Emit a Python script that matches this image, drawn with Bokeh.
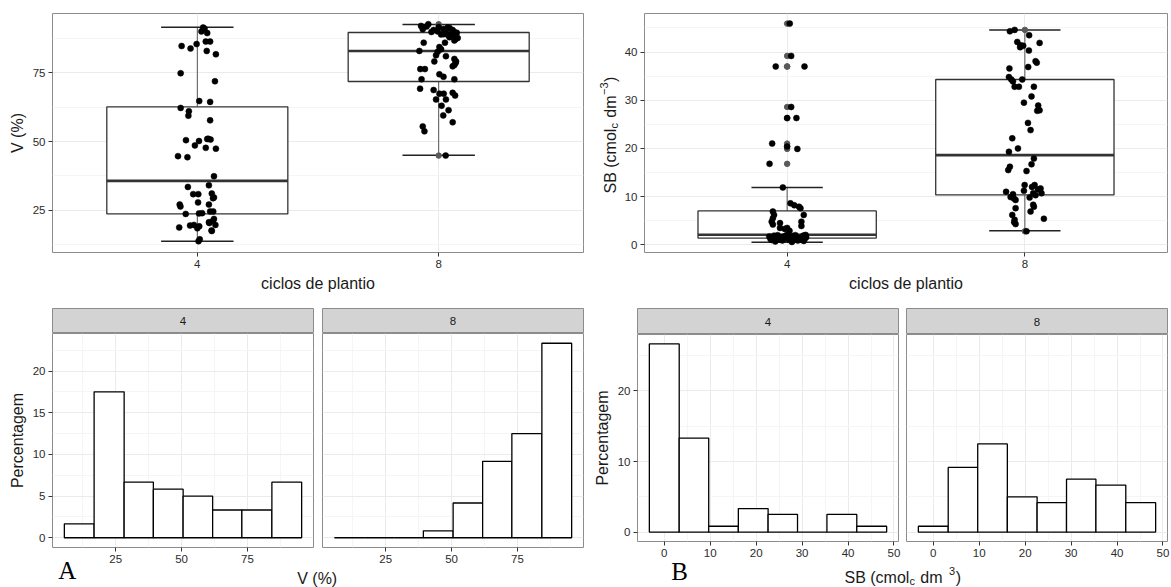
import math
from bokeh.plotting import figure
from bokeh.layouts import row, column
from bokeh.models import Range1d, FixedTicker
from bokeh.embed import file_html
from bokeh.resources import INLINE
from bokeh.core.properties import value

SANS = "Liberation Sans"
SERIF = "Liberation Serif"

# ------------------------------------------------------------------ data
groups = ["4", "8"]
x_axis_title = "ciclos de plantio"
v_axis_title = "V (%)"
hist_axis_title = "Percentagem"
panel_letters = ["A", "B"]

# boxplot statistics (per group: 4, 8)
v_low = [13.8, 45.0]
v_q1 = [23.7, 71.8]
v_med = [35.7, 82.9]
v_q3 = [62.6, 89.6]
v_high = [91.5, 92.5]

sb_low = [0.55, 2.9]
sb_q1 = [1.4, 10.35]
sb_med = [2.07, 18.6]
sb_q3 = [7.03, 34.3]
sb_high = [11.9, 44.55]

# jittered observations (horizontal jitter offset, value)
v4_jitter = [0.024, 0.017, 0.041, 0.030, 0.035, 0.053, -0.065, -0.028, -0.003, 0.039,
             0.077, -0.069, 0.073, 0.008, 0.053, -0.069, -0.035, -0.037, 0.053, -0.047,
             0.007, 0.041, 0.055, 0.045, -0.010, 0.035, 0.077, -0.080, -0.041, 0.069,
             -0.039, 0.048, -0.017, 0.004, 0.060, 0.069, 0.065, 0.003, -0.073, 0.048,
             -0.070, -0.048, 0.007, 0.020, 0.053, 0.066, 0.069, 0.065, 0.048, 0.050,
             -0.014, 0.075, -0.030, 0.008, -0.075, 0.000, 0.059, 0.060, 0.010, 0.005]
v4_values = [91.4, 90.0, 89.4, 91.0, 86.3, 86.3, 84.7, 83.8, 85.4, 82.9,
             81.7, 74.8, 71.9, 64.7, 64.4, 62.2, 61.0, 59.4, 57.7, 50.5,
             50.2, 50.9, 50.7, 51.0, 48.6, 47.7, 47.4, 44.7, 44.3, 37.4,
             33.5, 34.1, 30.9, 30.9, 31.1, 29.7, 29.4, 27.9, 27.1, 27.1,
             26.4, 23.7, 23.9, 24.0, 24.6, 24.6, 21.9, 21.2, 20.7, 20.4,
             19.7, 19.7, 19.5, 19.2, 18.8, 18.5, 17.7, 17.5, 14.5, 13.8]

v8_jitter = [-0.073, -0.043, -0.066, -0.021, -0.004, 0.037, 0.058, 0.021, 0.068, 0.079,
             0.051, -0.062, 0.026, 0.003, -0.050, 0.045, 0.030, -0.030, 0.055, 0.040,
             0.060, 0.010, 0.070, 0.020, 0.000, 0.075, 0.045, 0.065,
             -0.080, -0.004, -0.011, -0.018, 0.065, 0.072, 0.058, -0.076, -0.057, 0.003,
             0.010, 0.070, 0.065, 0.020, 0.030,
             -0.071, 0.065, -0.077, -0.021, 0.003, 0.021, 0.058, 0.068, -0.011, 0.030, 0.012,
             0.041, 0.019, 0.058, -0.066, -0.059,
             0.029]
v8_values = [92.0, 92.6, 90.8, 90.5, 90.0, 91.4, 90.5, 89.0, 89.6, 87.6,
             88.8, 85.9, 85.9, 84.3, 91.8, 91.2, 90.2, 89.8, 89.3, 88.5,
             88.2, 88.9, 87.2, 90.9, 91.6, 89.5, 87.9, 86.7,
             82.9, 82.6, 81.3, 79.1, 80.0, 79.1, 77.3, 76.3, 76.3, 74.4,
             83.5, 78.5, 77.8, 73.5, 81.0,
             72.6, 72.6, 69.2, 68.7, 67.4, 67.4, 67.7, 66.7, 65.3, 65.3, 63.0,
             61.4, 59.5, 57.0, 55.5, 53.7,
             44.9]

sb4_jitter = [0.020, -0.050, 0.070, -0.020, 0.045, -0.065, 0.010, 0.060, -0.035, 0.030,
              -0.070, 0.075, -0.005, 0.050, -0.045, 0.015, -0.060, 0.080, -0.025, 0.040,
              -0.075, 0.065, -0.010, 0.025, -0.055, 0.070, -0.040, 0.035, 0.005, 0.078,
              0.000, 0.010,
              -0.010, 0.000, -0.030, 0.060, -0.060, -0.030, -0.065, 0.060, -0.060, -0.055,
              0.070, -0.060, 0.056, 0.050, 0.030, 0.014,
              -0.018, -0.074, 0.043, 0.000, -0.063, 0.000, 0.039, 0.017, -0.048, 0.073,
              0.017, 0.011]
sb4_values = [0.6, 0.7, 0.8, 0.9, 0.9, 1.0, 1.0, 1.1, 1.1, 1.2,
              1.2, 1.3, 1.3, 1.35, 1.4, 1.45, 1.5, 1.55, 1.6, 1.65,
              1.7, 1.75, 1.8, 1.85, 1.9, 1.95, 2.0, 2.0, 2.05, 2.05,
              2.1, 2.9,
              3.3, 3.5, 3.5, 3.9, 4.2, 4.5, 4.8, 4.8, 5.5, 6.2,
              6.2, 6.9, 7.6, 7.9, 8.2, 8.6,
              11.9, 16.8, 19.9, 20.4, 21.0, 26.3, 26.3, 28.6, 37.0, 37.0,
              39.2, 45.9]

sb8_jitter = [-0.063, -0.043, 0.018, 0.062, -0.032,
              -0.018, -0.007, 0.017, 0.045, 0.014, -0.065, -0.020, 0.050,
              -0.067, -0.057, -0.011, -0.043, -0.025, 0.038, 0.028, -0.004, -0.050,
              0.056, 0.062, 0.052, 0.013, 0.024,
              -0.053, -0.029, -0.067, 0.038, 0.028, -0.063,
              -0.070, 0.007, -0.001, 0.041, 0.066, -0.079, -0.004, 0.035, 0.070, -0.060,
              0.045, -0.050, 0.055, 0.030, 0.020,
              -0.046, -0.039, -0.039, 0.038, 0.024, -0.053, -0.043, 0.080, -0.039, -0.045,
              0.035,
              0.007]
sb8_values = [44.3, 44.6, 43.5, 41.9, 42.1,
              41.4, 41.3, 40.3, 38.1, 36.9, 36.6, 41.0, 37.8,
              34.8, 34.3, 34.3, 32.8, 32.8, 32.8, 30.8, 29.5, 33.9,
              28.9, 27.9, 27.8, 25.3, 23.8,
              22.1, 20.0, 19.3, 17.9, 16.7, 16.2,
              15.5, 15.3, 12.4, 12.4, 11.7, 11.0, 11.2, 10.7, 10.7, 9.9,
              10.3, 10.5, 11.5, 12.0, 9.8,
              9.6, 9.3, 7.6, 7.9, 6.9, 6.2, 5.2, 5.4, 4.3, 4.7,
              8.3,
              2.8]

# histogram bins and percentages
v_bin_edges = [5.5, 16.8, 28.2, 39.3, 50.6, 61.8, 72.9, 84.3, 95.6]
v_pct_4 = [1.67, 17.5, 6.67, 5.83, 5.0, 3.33, 3.33, 6.67]
v_pct_8 = [0.0, 0.0, 0.0, 0.83, 4.17, 9.17, 12.5, 23.33]
sb_bin_edges = [-3.25, 3.25, 9.67, 16.12, 22.6, 29.0, 35.4, 41.9, 48.4]
sb_pct_4 = [26.67, 13.33, 0.83, 3.33, 2.5, 0.0, 2.5, 0.83]
sb_pct_8 = [0.83, 9.17, 12.5, 5.0, 4.17, 7.5, 6.67, 4.17]

# tick values
v_ticks = [25, 50, 75]
v_minor = [12.5, 37.5, 62.5, 87.5]
sb_ticks = [0, 10, 20, 30, 40]
sb_minor = [5, 15, 25, 35, 45]
vh_x_ticks = [25, 50, 75]
vh_x_minor = [12.5, 37.5, 62.5, 87.5]
vh_y_ticks = [0, 5, 10, 15, 20]
vh_y_minor = [2.5, 7.5, 12.5, 17.5, 22.5]
sbh_x_ticks = [0, 10, 20, 30, 40, 50]
sbh_x_minor = [5, 15, 25, 35, 45]
sbh_y_ticks = [0, 10, 20]
sbh_y_minor = [5, 15, 25]

# ------------------------------------------------------------------ style
BORDER = "#8c8c8c"
GRID = "#EBEBEB"
MINOR = "#F5F5F5"
DARK = "#333333"
TICKTXT = "#2b2b2b"
STRIP = "#D3D3D3"
TITLE = "#1a1a1a"

# Arial / Liberation Sans advance widths (1/1000 em) for label layout
AW = {'S': 667, 'B': 667, ' ': 278, '(': 333, ')': 333, 'c': 500, 'm': 833,
      'o': 556, 'l': 222, 'd': 556, '3': 556, '\u2212': 584}


def text_w(s, size):
    return sum(AW.get(ch, 556) for ch in s) / 1000.0 * size


def style_axes(p):
    p.outline_line_color = BORDER
    p.outline_line_width = 1
    p.background_fill_color = "white"
    p.border_fill_color = "white"
    for ax in p.axis:
        ax.axis_line_color = None
        ax.major_tick_line_color = DARK
        ax.major_tick_out = 4
        ax.major_tick_in = 0
        ax.minor_tick_line_color = None
        ax.major_label_text_font = SANS
        ax.major_label_text_font_size = "11.5px"
        ax.major_label_text_color = TICKTXT
        ax.major_label_standoff = 3
        ax.axis_label_text_font = SANS
        ax.axis_label_text_font_size = "16px"
        ax.axis_label_text_font_style = "normal"
        ax.axis_label_text_color = TITLE
        ax.axis_label_standoff = 4
    for g in p.grid:
        g.grid_line_color = GRID
        g.grid_line_width = 1
        g.minor_grid_line_color = MINOR
        g.minor_grid_line_width = 1


def boxplot_fig(width, height, mbl, mbr, mbt, mbb, y_rng, yticks, yminor,
                low, q1, med, q3, high, jitters, values, ylabel=None):
    p = figure(width=width, height=height, x_range=Range1d(0.4, 2.6),
               y_range=Range1d(*y_rng), output_backend="svg", toolbar_location=None,
               min_border_left=mbl, min_border_right=mbr, min_border_top=mbt,
               min_border_bottom=mbb)
    xs = [i + 1 for i in range(len(groups))]
    xt = FixedTicker(ticks=xs)
    yt = FixedTicker(ticks=yticks, minor_ticks=yminor)
    p.xaxis.ticker = xt
    p.xgrid.ticker = xt
    p.yaxis.ticker = yt
    p.ygrid.ticker = yt
    p.xaxis.major_label_overrides = {x: g for x, g in zip(xs, groups)}
    p.xaxis.axis_label = x_axis_title
    if ylabel:
        p.yaxis.axis_label = ylabel
    style_axes(p)
    p.xgrid.minor_grid_line_color = None

    half_box = 0.375
    half_cap = 0.15
    # error bar (whiskers)
    p.segment(x0=xs, y0=low, x1=xs, y1=high, line_color="#555555", line_width=1)
    p.segment(x0=[x - half_cap for x in xs], y0=low, x1=[x + half_cap for x in xs], y1=low,
              line_color="#222222", line_width=1.5)
    p.segment(x0=[x - half_cap for x in xs], y0=high, x1=[x + half_cap for x in xs], y1=high,
              line_color="#222222", line_width=1.5)
    # box
    p.quad(left=[x - half_box for x in xs], right=[x + half_box for x in xs],
           bottom=q1, top=q3, fill_color="white", line_color=DARK, line_width=1.3)
    p.segment(x0=[x - half_box for x in xs], y0=med, x1=[x + half_box for x in xs], y1=med,
              line_color=DARK, line_width=2.6)
    # outliers (beyond whiskers) at the group centre
    for i, vals in enumerate(values):
        out = [v for v in vals if v > high[i] or v < low[i]]
        if out:
            p.scatter([xs[i]] * len(out), out, size=5.5, fill_color="#5a5a5a",
                      line_color="#5a5a5a")
    # jittered points
    for i, (jit, vals) in enumerate(zip(jitters, values)):
        p.scatter([xs[i] + j for j in jit], vals, size=6, fill_color="black",
                  line_color="black", line_width=0.5)
    return p


def strip_fig(width, height, mbl, mbr, mbt, label):
    p = figure(width=width, height=height, x_range=Range1d(0, 1), y_range=Range1d(0, 1),
               x_axis_type=None, y_axis_type=None, output_backend="svg",
               toolbar_location=None, min_border_left=mbl, min_border_right=mbr,
               min_border_top=mbt, min_border_bottom=0)
    p.grid.visible = False
    p.background_fill_color = STRIP
    p.border_fill_color = "white"
    p.outline_line_color = BORDER
    p.text(x=[0.5], y=[0.5], text=[label], text_font=value(SANS),
           text_font_size=value("11.5px"), text_color=TITLE,
           text_align="center", text_baseline="middle")
    return p


def hist_fig(width, height, mbl, mbr, mbb, x_rng, y_rng, xt_, xm_, yt_, ym_,
             edges, pct, show_y):
    kw = {}
    if not show_y:
        kw["y_axis_location"] = None
    p = figure(width=width, height=height, x_range=Range1d(*x_rng), y_range=Range1d(*y_rng),
               output_backend="svg", toolbar_location=None, min_border_left=mbl,
               min_border_right=mbr, min_border_top=0, min_border_bottom=mbb, **kw)
    xt = FixedTicker(ticks=xt_, minor_ticks=xm_)
    yt = FixedTicker(ticks=yt_, minor_ticks=ym_)
    p.xaxis.ticker = xt
    p.xgrid.ticker = xt
    p.ygrid.ticker = yt
    if show_y:
        p.yaxis.ticker = yt
        p.yaxis.axis_label = hist_axis_title
    style_axes(p)
    p.quad(left=edges[:-1], right=edges[1:], bottom=[0] * len(pct), top=pct,
           fill_color="white", line_color="black", line_width=1.3)
    return p


def plain_fig(width, height, xr, yr, mbt=0, mbb=0, transparent=False, margin=None):
    kw = {}
    if margin is not None:
        kw["margin"] = margin
    p = figure(width=width, height=height, x_range=Range1d(*xr), y_range=Range1d(*yr),
               x_axis_type=None, y_axis_type=None, output_backend="svg",
               toolbar_location=None, min_border_left=0, min_border_right=0,
               min_border_top=mbt, min_border_bottom=mbb, **kw)
    p.grid.visible = False
    p.outline_line_color = None
    if transparent:
        p.background_fill_color = None
        p.border_fill_color = None
    else:
        p.background_fill_color = "white"
        p.border_fill_color = "white"
    return p


SPACE16 = text_w(" ", 16)


def sb_pieces(sup_text, gap_before_sup):
    # (text, font px, shift of the piece's middle line: + up / - down, gap after)
    # spaces are given as gaps because SVG text drops leading/trailing blanks
    return [("SB (cmol", 16, 0.0, 0.0), ("c", 11, -4.2, SPACE16 + 1.0),
            ("dm", 16, 0.0, gap_before_sup),
            (sup_text, 11, 5.8, 0.5), (")", 16, 0.0, 0.0)]


def put_text(p, x, y, txt, font, size, angle=0.0, align="left", color=TITLE):
    p.text(x=[x], y=[y], text=[txt], text_font=value(font),
           text_font_size=value(f"{size}px"), text_color=color,
           text_align=align, text_baseline="middle", angle=angle)


# ------------------------------------------------------------------ top row
tl = boxplot_fig(590, 295, 52, 7, 12, 43, (9.7, 96.5), v_ticks, v_minor,
                 v_low, v_q1, v_med, v_q3, v_high,
                 [v4_jitter, v8_jitter], [v4_values, v8_values], ylabel=v_axis_title)

# rotated SB axis title (with sub/superscript) in its own narrow canvas;
# frame spans screen rows 13..252, 1 data unit = 1 px
ylab = plain_fig(30, 295, (0, 30), (0, 239), mbt=13, mbb=43)
cursor = 59.0
for txt, size, shift, gap in sb_pieces("\u22123", 0.5):
    put_text(ylab, 19.5 - shift, cursor, txt, SANS, size, angle=math.pi / 2)
    cursor += text_w(txt, size) + gap

tr = boxplot_fig(551, 295, 24, 4, 13, 43, (-1.6, 48.0), sb_ticks, sb_minor,
                 sb_low, sb_q1, sb_med, sb_q3, sb_high,
                 [sb4_jitter, sb8_jitter], [sb4_values, sb8_values])

top = row(tl, ylab, tr)

# ------------------------------------------------------------------ bottom left (V %)
s4 = strip_fig(317, 38, 52, 4, 13, groups[0])
s8 = strip_fig(273, 38, 5, 7, 13, groups[1])
h4 = hist_fig(317, 234, 52, 4, 20, (1.0, 100.1), (-1.17, 24.5), vh_x_ticks, vh_x_minor,
              vh_y_ticks, vh_y_minor, v_bin_edges, v_pct_4, True)
h8 = hist_fig(273, 234, 5, 7, 20, (1.0, 100.1), (-1.17, 24.5), vh_x_ticks, vh_x_minor,
              vh_y_ticks, vh_y_minor, v_bin_edges, v_pct_8, False)
# transparent caption canvas that overlaps the tick-label band above it
lab_bl = plain_fig(590, 32, (0, 590), (0, 32), transparent=True, margin=(-12, 0, 0, 0))
put_text(lab_bl, 316.7, 9, v_axis_title, SANS, 16, align="center")
put_text(lab_bl, 66.7, 17.4, panel_letters[0], SERIF, 25, align="center", color="black")
bl = column(row(s4, s8), row(h4, h8), lab_bl)

# ------------------------------------------------------------------ bottom right (SB)
s4b = strip_fig(312, 39, 47, 4, 13, groups[0])
s8b = strip_fig(269, 39, 4, 4, 13, groups[1])
h4b = hist_fig(312, 227, 47, 4, 20, (-5.83, 50.98), (-1.33, 28.0), sbh_x_ticks, sbh_x_minor,
               sbh_y_ticks, sbh_y_minor, sb_bin_edges, sb_pct_4, True)
h8b = hist_fig(269, 227, 4, 4, 20, (-5.83, 50.98), (-1.33, 28.0), sbh_x_ticks, sbh_x_minor,
               sbh_y_ticks, sbh_y_minor, sb_bin_edges, sb_pct_8, False)
lab_br = plain_fig(581, 32, (0, 581), (0, 32), transparent=True, margin=(-6, 0, 0, 0))
put_text(lab_br, 89, 16.4, panel_letters[1], SERIF, 25, align="center", color="black")
cursor = 254.0
for txt, size, shift, gap in sb_pieces("3", SPACE16 + 2.0):
    put_text(lab_br, cursor, 10.5 + shift, txt, SANS, size)
    cursor += text_w(txt, size) + gap
br = column(row(s4b, s8b), row(h4b, h8b), lab_br)

layout = column(top, row(bl, br))

open("out.html", "w").write(file_html(layout, INLINE))
